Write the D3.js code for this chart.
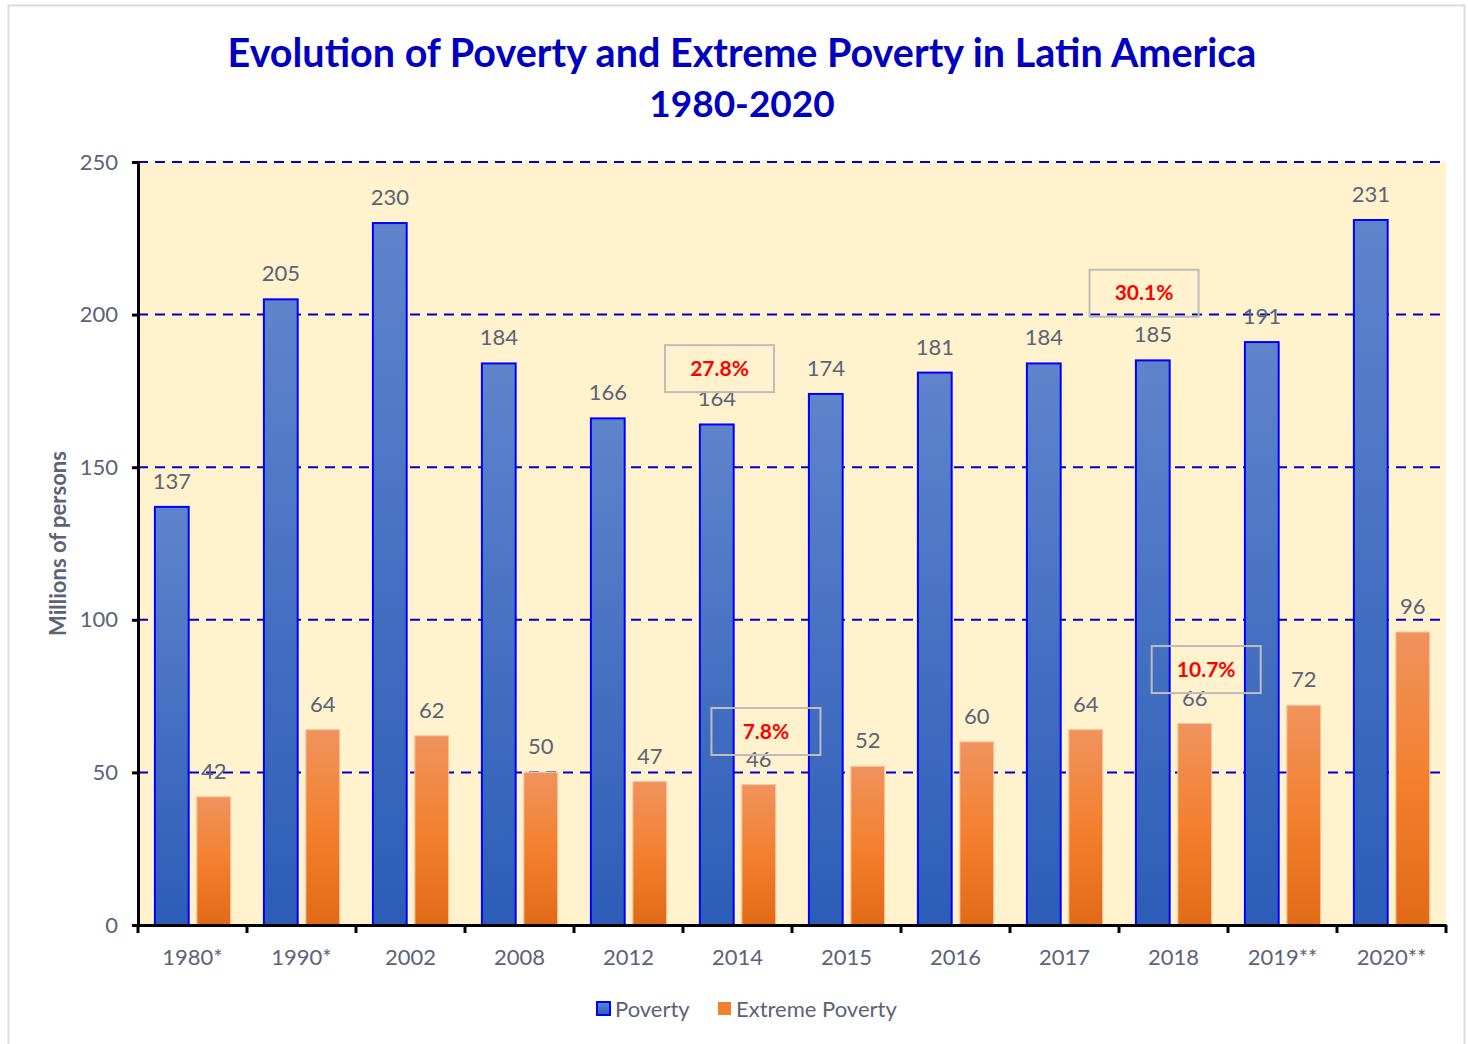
<!DOCTYPE html>
<html>
<head>
<meta charset="utf-8">
<script src="https://cdn.jsdelivr.net/npm/d3@7"></script>
<style>
  body { margin: 0; background: #ffffff; }
  svg { display: block; font-family: Lato, "Open Sans", sans-serif; }
</style>
</head>
<body>
<svg id="chart" width="1468" height="1044"></svg>
<script>
// Données du graphique
const categories = ["1980*", "1990*", "2002", "2008", "2012", "2014", "2015", "2016", "2017", "2018", "2019**", "2020**"];
const poverty = [137, 205, 230, 184, 166, 164, 174, 181, 184, 185, 191, 231];
const extremePoverty = [42, 64, 62, 50, 47, 46, 52, 60, 64, 66, 72, 96];
const yTicks = [0, 50, 100, 150, 200, 250];
const seriesNames = ["Poverty", "Extreme Poverty"];
// annotations : catégorie, fraction de la bande, valeur au centre
const notes = [
  { cat: "2014", frac: 0.335, value: 182.3, text: "27.8%" },
  { cat: "2018", frac: 0.23, value: 207, text: "30.1%" },
  { cat: "2018", frac: 0.80, value: 83.7, text: "10.7%" },
  { cat: "2014", frac: 0.761, value: 63.4, text: "7.8%" }
];

const colors = {
  title: "#0000c0",
  text: "#5a6378",
  grid: "#0000cc",
  plotBg: "#fff2cc",
  red: "#ff0000"
};

const svg = d3.select("#chart");
const margin = { left: 138, right: 22, top: 162, bottom: 119 };
const width = 1468, height = 1044;

// cadre extérieur
svg.append("rect")
  .attr("x", 8.5).attr("y", 5.5)
  .attr("width", 1456).attr("height", 1050)
  .attr("fill", "#fff")
  .attr("stroke", "#d9dde4")
  .attr("stroke-width", 2);

const defs = svg.append("defs");
const gBlue = defs.append("linearGradient").attr("id", "gBlue").attr("x1", 0).attr("y1", 0).attr("x2", 0).attr("y2", 1);
gBlue.append("stop").attr("offset", "0%").attr("stop-color", "#5f84cc");
gBlue.append("stop").attr("offset", "100%").attr("stop-color", "#2c5db7");
const gOrange = defs.append("linearGradient").attr("id", "gOrange").attr("x1", 0).attr("y1", 0).attr("x2", 0).attr("y2", 1);
gOrange.append("stop").attr("offset", "0%").attr("stop-color", "#f0935e");
gOrange.append("stop").attr("offset", "50%").attr("stop-color", "#f3802f");
gOrange.append("stop").attr("offset", "100%").attr("stop-color", "#e26a17");

const x = d3.scaleBand()
  .domain(categories)
  .range([margin.left, width - margin.right]);

const y = d3.scaleLinear()
  .domain([0, 250])
  .range([height - margin.bottom, margin.top]);

const bw = x.bandwidth();
const pad = bw * 0.155;
const barW = bw * 0.31;
const gap = bw * 0.075;

// fond du graphique
svg.append("rect")
  .attr("x", x.range()[0]).attr("y", y(250))
  .attr("width", x.range()[1] - x.range()[0])
  .attr("height", y(0) - y(250))
  .attr("fill", colors.plotBg);

// grille
svg.append("g")
  .selectAll("line")
  .data(yTicks.filter(d => d > 0))
  .join("line")
  .attr("x1", x.range()[0]).attr("x2", x.range()[1] - 4)
  .attr("y1", d => y(d)).attr("y2", d => y(d))
  .attr("stroke", colors.grid)
  .attr("stroke-width", 2)
  .attr("stroke-dasharray", "10,7");

// barres
const groups = svg.append("g")
  .selectAll("g")
  .data(categories)
  .join("g");

groups.append("rect")
  .attr("x", d => x(d) + pad)
  .attr("y", (d, i) => y(poverty[i]))
  .attr("width", barW)
  .attr("height", (d, i) => y(0) - y(poverty[i]))
  .attr("fill", "url(#gBlue)")
  .attr("stroke", "#0000ff")
  .attr("stroke-width", 2);

groups.append("rect")
  .attr("x", d => x(d) + pad + barW + gap)
  .attr("y", (d, i) => y(extremePoverty[i]))
  .attr("width", barW)
  .attr("height", (d, i) => y(0) - y(extremePoverty[i]))
  .attr("fill", "url(#gOrange)")
  .attr("stroke", "#f7c49e")
  .attr("stroke-width", 1);

// étiquettes de valeurs
groups.append("text")
  .attr("x", d => x(d) + pad + barW / 2)
  .attr("y", (d, i) => y(poverty[i]) - 18)
  .attr("text-anchor", "middle")
  .attr("font-size", 22)
  .attr("fill", colors.text)
  .text((d, i) => poverty[i]);

groups.append("text")
  .attr("x", d => x(d) + pad + barW * 1.5 + gap)
  .attr("y", (d, i) => y(extremePoverty[i]) - 18)
  .attr("text-anchor", "middle")
  .attr("font-size", 22)
  .attr("fill", colors.text)
  .text((d, i) => extremePoverty[i]);

// axe Y
const yAxis = svg.append("g")
  .attr("transform", `translate(${x.range()[0]},0)`)
  .call(d3.axisLeft(y).tickValues(yTicks).tickSize(6).tickPadding(14));
yAxis.select(".domain").attr("stroke", "#000").attr("stroke-width", 3);
yAxis.selectAll(".tick line").attr("stroke", "#000").attr("stroke-width", 3);
yAxis.selectAll(".tick text")
  .attr("font-size", 22).attr("fill", colors.text)
  .attr("font-family", "Lato, sans-serif");

// axe X
const xAxis = svg.append("g")
  .attr("transform", `translate(0,${y(0)})`)
  .call(d3.axisBottom(x).tickSize(0).tickPadding(24));
xAxis.select(".domain").attr("stroke", "#000").attr("stroke-width", 3);
xAxis.selectAll(".tick text")
  .attr("font-size", 22).attr("fill", colors.text)
  .attr("font-family", "Lato, sans-serif");
xAxis.selectAll(".sep")
  .data(categories.concat([null]))
  .join("line")
  .attr("class", "sep")
  .attr("x1", (d, i) => x.range()[0] + i * x.step())
  .attr("x2", (d, i) => x.range()[0] + i * x.step())
  .attr("y1", 0).attr("y2", 8)
  .attr("stroke", "#000").attr("stroke-width", 3);

// titre de l'axe Y
svg.append("text")
  .attr("transform", `translate(66,${(y(0) + y(250)) / 2}) rotate(-90)`)
  .attr("text-anchor", "middle")
  .attr("font-size", 22)
  .attr("font-weight", "bold")
  .attr("fill", colors.text)
  .text("Millions of persons");

// titre
svg.append("text")
  .attr("x", 742).attr("y", 67)
  .attr("text-anchor", "middle")
  .attr("font-size", 39.5)
  .attr("font-weight", "bold")
  .attr("fill", colors.title)
  .text("Evolution of Poverty and Extreme Poverty in Latin America");
svg.append("text")
  .attr("x", 742).attr("y", 117)
  .attr("text-anchor", "middle")
  .attr("font-size", 37)
  .attr("font-weight", "bold")
  .attr("fill", colors.title)
  .text("1980-2020");

// annotations
const noteG = svg.append("g")
  .selectAll("g")
  .data(notes)
  .join("g")
  .attr("transform", d => `translate(${x(d.cat) + d.frac * bw},${y(d.value)})`);
noteG.append("rect")
  .attr("x", -bw / 2).attr("y", -23.5)
  .attr("width", bw).attr("height", 47)
  .attr("fill", "none")
  .attr("stroke", "#bdbdbd")
  .attr("stroke-width", 2);
noteG.append("text")
  .attr("text-anchor", "middle")
  .attr("dy", 7)
  .attr("font-size", 21)
  .attr("font-weight", "bold")
  .attr("fill", colors.red)
  .text(d => d.text);

// légende
const legend = svg.append("g").attr("transform", "translate(596,1009)");
const items = [
  { name: seriesNames[0], fill: "url(#gBlue)", stroke: "#0000ff", sw: 2, x: 0 },
  { name: seriesNames[1], fill: "#f3802f", stroke: "none", sw: 0, x: 121 }
];
const li = legend.selectAll("g").data(items).join("g")
  .attr("transform", d => `translate(${d.x},0)`);
li.append("rect")
  .attr("x", 1).attr("y", -7)
  .attr("width", 13).attr("height", 13)
  .attr("fill", d => d.fill)
  .attr("stroke", d => d.stroke)
  .attr("stroke-width", d => d.sw);
li.append("text")
  .attr("x", 19).attr("y", 8)
  .attr("font-size", 22)
  .attr("fill", colors.text)
  .text(d => d.name);
</script>
</body>
</html>
